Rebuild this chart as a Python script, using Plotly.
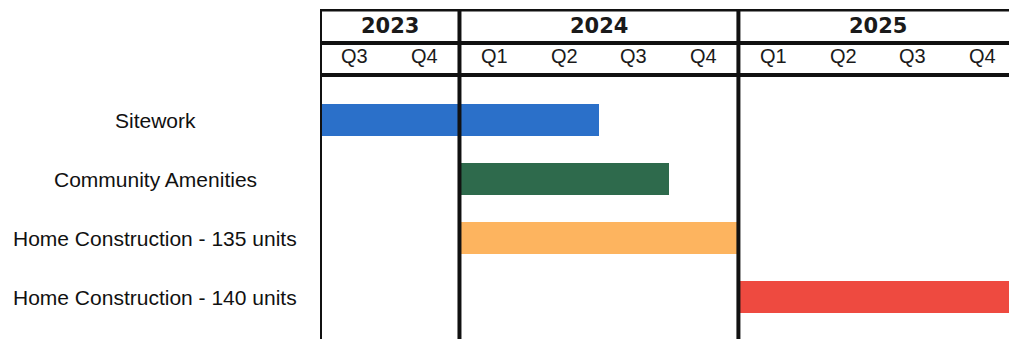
import plotly.graph_objects as go

# Schedule data, in quarters counted from 2023 Q3 (= 0)
tasks = ["Sitework", "Community Amenities", "Home Construction - 135 units", "Home Construction - 140 units"]
task_start = [0, 2, 2, 6]
task_end = [4, 5, 6, 10]
task_colors = ["#2b70c9", "#2e6a4c", "#fdb45f", "#ee4a40"]

years = ["2023", "2024", "2025"]
year_start = [0, 2, 6]
year_end = [2, 6, 10]
quarter_labels = ["Q3", "Q4", "Q1", "Q2", "Q3", "Q4", "Q1", "Q2", "Q3", "Q4"]

W, H = 1009, 339
LEFT, TOP = 320, 9
X_MAX = 9.88  # visible quarters to the right edge

fig = go.Figure()
for i, name in enumerate(tasks):
    fig.add_trace(go.Bar(
        y=[i], x=[task_end[i] - task_start[i]], base=[task_start[i]],
        orientation="h", width=0.54,
        marker=dict(color=task_colors[i], line=dict(width=0)),
        hoverinfo="skip", showlegend=False,
    ))

# y data range chosen so rows are ~59px apart with the header above
px_per_row = 59.0
first_center = 120.0
y_top = (TOP - first_center) / px_per_row
y_bot = (H - first_center) / px_per_row


def ypix(p):
    return (p - first_center) / px_per_row


shapes = []
line_col = "#111111"
# horizontal header lines
for p, w in [(TOP + 1, 3), (43, 4), (75, 4)]:
    shapes.append(dict(type="line", xref="x", yref="y", x0=0, x1=X_MAX + 1,
                       y0=ypix(p), y1=ypix(p), line=dict(color=line_col, width=w), layer="above"))
# vertical year boundaries
for xs in year_start:
    shapes.append(dict(type="line", xref="x", yref="y", x0=xs, x1=xs,
                       y0=y_top, y1=y_bot, line=dict(color=line_col, width=4), layer="above"))

annotations = []
for yname, s, e in zip(years, year_start, year_end):
    annotations.append(dict(x=(s + e) / 2, y=ypix(25.5), xref="x", yref="y", text=yname,
                            showarrow=False, font=dict(size=21, color="#1a1a1a", family="DejaVu Sans", weight="bold"),
                            xanchor="center", yanchor="middle"))
for q, lab in enumerate(quarter_labels):
    annotations.append(dict(x=q + 0.5, y=ypix(56), xref="x", yref="y", text=lab,
                            showarrow=False, font=dict(size=20, color="#1a1a1a", family="Liberation Sans"),
                            xanchor="center", yanchor="middle"))
for i, name in enumerate(tasks):
    annotations.append(dict(x=(155 - LEFT) / (W - LEFT), y=i, xref="paper", yref="y", text=name,
                            showarrow=False, font=dict(size=21, color="#111111", family="Liberation Sans"),
                            xanchor="center", yanchor="middle"))

fig.update_layout(
    width=W, height=H,
    margin=dict(l=LEFT, r=0, t=TOP, b=0, pad=0),
    paper_bgcolor="white", plot_bgcolor="white",
    xaxis=dict(range=[0, X_MAX], showgrid=False, zeroline=False, showticklabels=False, fixedrange=True),
    yaxis=dict(range=[y_bot, y_top], showgrid=False, zeroline=False, showticklabels=False, fixedrange=True),
    shapes=shapes, annotations=annotations, bargap=0,
)

fig.write_html("out.html", config={"displayModeBar": False})
